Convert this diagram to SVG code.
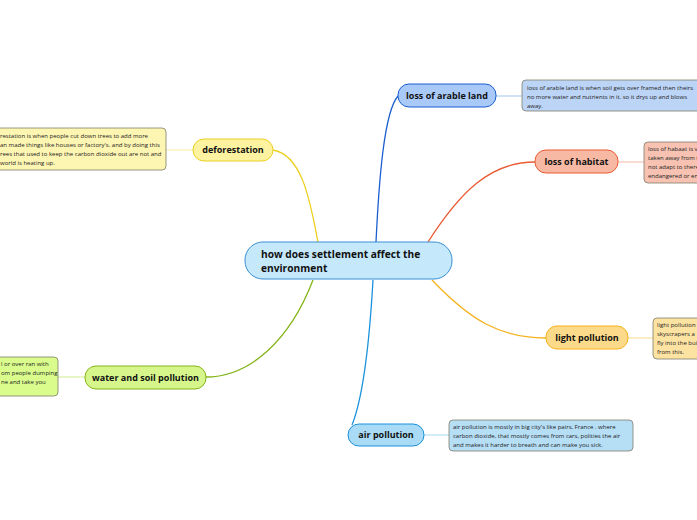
<svg xmlns="http://www.w3.org/2000/svg" width="697" height="520" viewBox="0 0 697 520">
<style>
.lbl{font-family:"Open Sans","Noto Sans",sans-serif;font-weight:bold;font-size:9px;fill:#111;text-anchor:middle}
.ctr{font-family:"Open Sans","Noto Sans",sans-serif;font-weight:bold;font-size:10.2px;fill:#111}
.desc{font-family:"Open Sans","Noto Sans",sans-serif;font-size:6px;fill:#222}
.c{fill:none;stroke-width:1.3}
.t{fill:none;stroke-width:1.2}
.box{stroke:#7d7d6a;stroke-width:0.8}
</style>
<rect width="697" height="520" fill="#fff"/>
<g id="connectors">
<path class="c" stroke="#1a5fd0" d="M376,242 C379,180 384,112 398,96"/>
<path class="c" stroke="#ea5a32" d="M428,242 C460,192 490,162 535,162"/>
<path class="c" stroke="#f4b21c" d="M432,280 C470,320 500,338 546,338"/>
<path class="c" stroke="#1a92dc" d="M373,280 C369,350 362,400 352,425"/>
<path class="c" stroke="#84b418" d="M313,280 C290,340 250,377 206,377"/>
<path class="c" stroke="#ecd020" d="M318,242 C310,200 302,155 273,150"/>
<path class="t" stroke="#b3cdf3" d="M496,96 H522"/>
<path class="t" stroke="#f7c5b5" d="M618,162 H644"/>
<path class="t" stroke="#fbe2a0" d="M628,338 H653"/>
<path class="t" stroke="#b4def5" d="M424,435 H449"/>
<path class="t" stroke="#d6f0a0" d="M58,377 H85"/>
<path class="t" stroke="#faf0b0" d="M166,150 H193"/>
</g>
<g id="center">
<rect x="245" y="242" width="207" height="37" rx="18" fill="#c5e9fb" stroke="#3b8fd4" stroke-width="1"/>
<text class="ctr" x="261" y="258">how does settlement affect the</text>
<text class="ctr" x="261" y="272">environment</text>
</g>
<g id="loss-of-arable-land">
<rect x="398" y="84" width="98" height="23" rx="11" fill="#a9c9f8" stroke="#1a5fd0" stroke-width="1"/>
<text class="lbl" x="447" y="99">loss of arable land</text>
</g>
<g id="arable-desc">
<rect x="522" y="80" width="185" height="31" rx="4" fill="#bcd4f6" class="box"/>
<text class="desc" x="527" y="90">loss of arable land is  when soil gets over framed  then theirs</text>
<text class="desc" x="527" y="99">no more water and nutrients in it. so it  drys up and blows</text>
<text class="desc" x="527" y="108">away.</text>
</g>
<g id="loss-of-habitat">
<rect x="535" y="150" width="83" height="23" rx="11" fill="#f8b9a4" stroke="#ea5a32" stroke-width="1"/>
<text class="lbl" x="576.5" y="165">loss of habitat</text>
</g>
<g id="habitat-desc">
<rect x="644" y="142" width="70" height="41" rx="4" fill="#f8c2b2" class="box"/>
<text class="desc" x="648" y="151">loss of habaat is v</text>
<text class="desc" x="648" y="160">taken away from t</text>
<text class="desc" x="648" y="169">not adapt to there</text>
<text class="desc" x="648" y="178">endangered or en</text>
</g>
<g id="light-pollution">
<rect x="546" y="326" width="82" height="23" rx="11" fill="#fdd98a" stroke="#f4b21c" stroke-width="1"/>
<text class="lbl" x="587" y="341">light pollution</text>
</g>
<g id="light-desc">
<rect x="653" y="318" width="60" height="41" rx="4" fill="#fde3a2" class="box"/>
<text class="desc" x="657" y="327">light pollution</text>
<text class="desc" x="657" y="336">skyscrapers a</text>
<text class="desc" x="657" y="345">fly into the bui</text>
<text class="desc" x="657" y="354">from this.</text>
</g>
<g id="air-pollution">
<rect x="348" y="424" width="76" height="22" rx="11" fill="#a9dbf6" stroke="#1a92dc" stroke-width="1"/>
<text class="lbl" x="386" y="438">air pollution</text>
</g>
<g id="air-desc">
<rect x="449" y="420" width="184" height="31" rx="4" fill="#b6def5" class="box"/>
<text class="desc" x="453" y="429">air pollution is mostly in big city's like pairs, France . where</text>
<text class="desc" x="453" y="438">carbon dioxide, that mostly comes from cars, polities the air</text>
<text class="desc" x="453" y="447">and   makes it harder to breath and can make you sick.</text>
</g>
<g id="water-and-soil-pollution">
<rect x="85" y="366" width="121" height="23" rx="11" fill="#d6f68c" stroke="#84b418" stroke-width="1"/>
<text class="lbl" x="145.5" y="381">water and soil pollution</text>
</g>
<g id="water-desc">
<rect x="-20" y="357" width="78" height="39" rx="4" fill="#d9fc8c" class="box"/>
<text class="desc" x="1" y="366">l or over ran with</text>
<text class="desc" x="1" y="375">om people dumping</text>
<text class="desc" x="1" y="384">ne and take you</text>
</g>
<g id="deforestation">
<rect x="193" y="139" width="80" height="22" rx="11" fill="#fdf29f" stroke="#ecd020" stroke-width="1"/>
<text class="lbl" x="233" y="153">deforestation</text>
</g>
<g id="deforestation-desc">
<rect x="-20" y="128" width="186" height="42" rx="4" fill="#fdf5b2" class="box"/>
<text class="desc" x="0" y="138">restation is when people cut  down trees to add more</text>
<text class="desc" x="0" y="147">an made things like houses or factory's. and by doing this</text>
<text class="desc" x="0" y="156">rees that used to keep the carbon dioxide out are not and</text>
<text class="desc" x="0" y="165">world is heating up.</text>
</g>
</svg>
